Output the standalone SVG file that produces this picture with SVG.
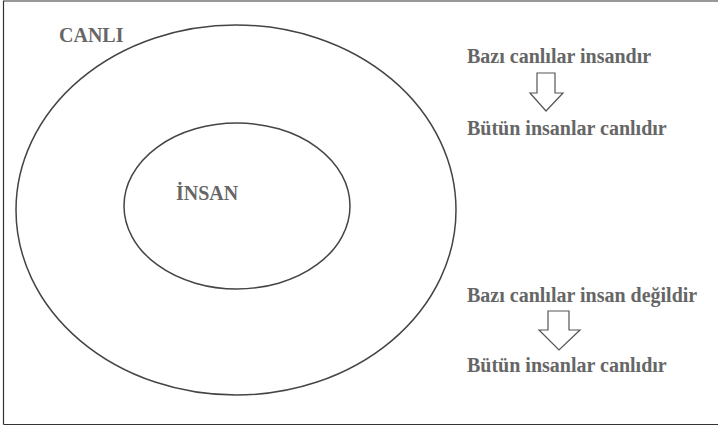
<svg xmlns="http://www.w3.org/2000/svg" width="718" height="430" viewBox="0 0 718 430">
<style>
.t{font-family:"Liberation Serif","Times New Roman",serif;font-weight:bold;fill:#666;font-size:20px;}
.e{fill:none;stroke:#444;stroke-width:1.5;}
.a{fill:#fff;stroke:#555;stroke-width:1.2;}
</style>
<rect x="0" y="0" width="718" height="430" fill="#fff"/>
<path d="M3.5 424.5 V1 H718 M3.5 424.5 H718" fill="none" stroke="#333" stroke-width="1.2"/>
<g id="canli">
<ellipse class="e" cx="236" cy="210" rx="220" ry="185"/>
<text class="t" x="59" y="42">CANLI</text>
</g>
<g id="insan">
<ellipse class="e" cx="237" cy="206" rx="113" ry="83"/>
<text class="t" x="176" y="200">İNSAN</text>
</g>
<g id="text1">
<text class="t" x="467" y="63">Bazı canlılar insandır</text>
<text class="t" x="467" y="135">Bütün insanlar canlıdır</text>
</g>
<g id="text2">
<text class="t" x="467" y="302">Bazı canlılar insan değildir</text>
<text class="t" x="467" y="372">Bütün insanlar canlıdır</text>
</g>
<g id="connectors">
<polygon class="a" points="537,73 555,73 555,93 563,93 546,111 530,93 537,93"/>
<polygon class="a" points="548,311 569,311 569,330 580,330 559,350 539,330 548,330"/>
</g>
</svg>
